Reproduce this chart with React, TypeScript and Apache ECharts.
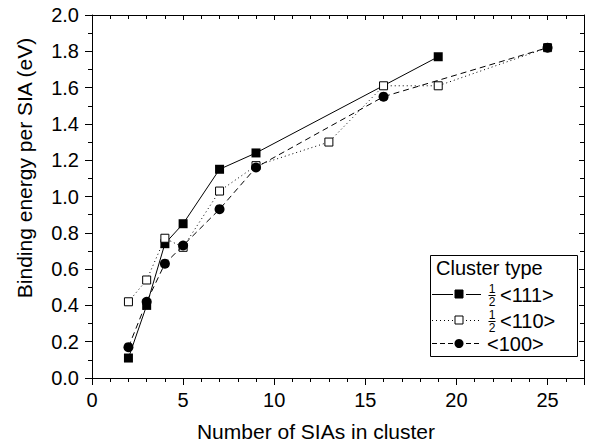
import React, { useEffect, useRef } from "react";
import * as echarts from "echarts";

const xTicks = [0, 5, 10, 15, 20, 25];
const yTickLabels = ["0.0", "0.2", "0.4", "0.6", "0.8", "1.0", "1.2", "1.4", "1.6", "1.8", "2.0"];

const names = ["1/2 <111>", "1/2 <110>", "<100>"];
const xTitle = "Number of SIAs in cluster";
const yTitle = "Binding energy per SIA (eV)";

const s111X = [2, 3, 4, 5, 7, 9, 19];
const s111Y = [0.11, 0.4, 0.74, 0.85, 1.15, 1.24, 1.77];

const s110X = [2, 3, 4, 5, 7, 9, 13, 16, 19, 25];
const s110Y = [0.42, 0.54, 0.77, 0.72, 1.03, 1.17, 1.3, 1.61, 1.61, 1.82];

const s100X = [2, 3, 4, 5, 7, 9, 16, 25];
const s100Y = [0.17, 0.42, 0.63, 0.73, 0.93, 1.16, 1.55, 1.82];

const FONT = "Liberation Sans, Arial, Helvetica, sans-serif";

function pairs(xs: number[], ys: number[]) {
  return xs.map((x, i) => [x, ys[i]]);
}

export default function App() {
  const ref = useRef<HTMLDivElement>(null);
  useEffect(() => {
    if (!ref.current) return;
    const chart = echarts.init(ref.current, null, { renderer: "svg" });
    const black = "#000";
    const axisCommon = {
      type: "value" as const,
      axisLine: { show: true, onZero: false, lineStyle: { color: black, width: 1 } },
      splitLine: { show: false },
    };
    const legendRows = [
      { y: 294, dash: null as any, sym: "sq", fill: black, frac: true, label: "<111>" },
      { y: 320, dash: [1, 3], sym: "sq", fill: "#fff", frac: true, label: "<110>" },
      { y: 343, dash: [5, 3], sym: "ci", fill: black, frac: false, label: "<100>" },
    ];
    const graphics: any[] = [
      {
        type: "rect",
        shape: { x: 430.5, y: 255.5, width: 147, height: 101 },
        style: { fill: "#fff", stroke: black, lineWidth: 1 },
        z: 100,
      },
      {
        type: "text",
        x: 436,
        y: 268,
        style: { text: "Cluster type", font: `20px ${FONT}`, fill: black, textVerticalAlign: "middle" },
        z: 101,
      },
      {
        type: "text",
        x: 316,
        y: 431,
        style: { text: xTitle, font: `21px ${FONT}`, fill: black, textAlign: "center", textVerticalAlign: "middle" },
        z: 101,
      },
      {
        type: "text",
        x: 24,
        y: 168,
        rotation: Math.PI / 2,
        style: { text: yTitle, font: `21px ${FONT}`, fill: black, textAlign: "center", textVerticalAlign: "middle" },
        z: 101,
      },
    ];
    legendRows.forEach((r) => {
      const ls = { stroke: black, lineWidth: 1, lineDash: r.dash || undefined };
      graphics.push({ type: "line", shape: { x1: 432, y1: r.y + 0.5, x2: 453, y2: r.y + 0.5 }, style: ls, z: 101 });
      graphics.push({ type: "line", shape: { x1: 466, y1: r.y + 0.5, x2: 481, y2: r.y + 0.5 }, style: ls, z: 101 });
      if (r.sym === "sq") {
        graphics.push({
          type: "rect",
          shape: { x: 455, y: r.y - 4, width: 8, height: 8 },
          style: { fill: r.fill, stroke: black, lineWidth: 1 },
          z: 102,
        });
      } else {
        graphics.push({ type: "circle", shape: { cx: 459, cy: r.y + 0.5, r: 4.5 }, style: { fill: black }, z: 102 });
      }
      let tx = 487;
      if (r.frac) {
        graphics.push({
          type: "text", x: 492, y: r.y - 5,
          style: { text: "1", font: `12px ${FONT}`, lineHeight: 11, fill: black, textAlign: "center", textVerticalAlign: "middle" }, z: 101,
        });
        graphics.push({ type: "line", shape: { x1: 488.5, y1: r.y + 1.5, x2: 495.5, y2: r.y + 1.5 }, style: { stroke: black, lineWidth: 1 }, z: 101 });
        graphics.push({
          type: "text", x: 492, y: r.y + 7.5,
          style: { text: "2", font: `12px ${FONT}`, lineHeight: 11, fill: black, textAlign: "center", textVerticalAlign: "middle" }, z: 101,
        });
        tx = 500;
      }
      graphics.push({
        type: "text", x: tx, y: r.y + 1,
        style: { text: r.label, font: `20px ${FONT}`, fill: black, textVerticalAlign: "middle" }, z: 101,
      });
    });

    const option: any = {
      animation: false,
      backgroundColor: "#fff",
      textStyle: { fontFamily: FONT },
      grid: { left: 92, right: 7, top: 15, bottom: 65, containLabel: false },
      xAxis: [
        {
          ...axisCommon,
          position: "bottom",
          min: 0,
          max: 27,
          interval: 5,
          axisTick: { show: true, inside: false, length: 7, lineStyle: { color: black } },
          minorTick: { show: true, splitNumber: 5, length: 4, lineStyle: { color: black } },
          axisLabel: {
            fontSize: 20, color: black, fontFamily: FONT, margin: 12,
            formatter: (v: number) => (xTicks.includes(v) ? String(v) : ""),
          },
        },
        {
          ...axisCommon,
          position: "top",
          min: 0,
          max: 27,
          interval: 5,
          axisTick: { show: true, inside: true, length: 5, lineStyle: { color: black } },
          minorTick: { show: true, splitNumber: 5, length: 4, lineStyle: { color: black } },
          axisLabel: { show: false },
        },
      ],
      yAxis: [
        {
          ...axisCommon,
          position: "left",
          min: 0,
          max: 2,
          interval: 0.2,
          axisTick: { show: true, inside: false, length: 7, lineStyle: { color: black } },
          minorTick: { show: true, splitNumber: 2, length: 4, lineStyle: { color: black } },
          axisLabel: {
            fontSize: 20, color: black, fontFamily: FONT, margin: 13,
            formatter: (v: number) => yTickLabels[Math.round(v * 5)] ?? "",
          },
        },
        {
          ...axisCommon,
          position: "right",
          min: 0,
          max: 2,
          interval: 0.2,
          axisTick: { show: true, inside: true, length: 5, lineStyle: { color: black } },
          minorTick: { show: true, splitNumber: 2, length: 4, lineStyle: { color: black } },
          axisLabel: { show: false },
        },
      ],
      legend: { show: false },
      series: [
        {
          name: names[0],
          type: "line",
          data: pairs(s111X, s111Y),
          symbol: "rect",
          symbolSize: 9,
          itemStyle: { color: black, borderColor: black, borderWidth: 0 },
          lineStyle: { color: black, width: 1, type: "solid" },
          z: 2,
        },
        {
          name: names[1],
          type: "line",
          data: pairs(s110X, s110Y),
          symbol: "rect",
          symbolSize: 8,
          itemStyle: { color: "#fff", borderColor: black, borderWidth: 1 },
          lineStyle: { color: black, width: 1, type: [1, 3] },
          z: 3,
        },
        {
          name: names[2],
          type: "line",
          data: pairs(s100X, s100Y),
          symbol: "circle",
          symbolSize: 10,
          itemStyle: { color: black, borderColor: black, borderWidth: 0 },
          lineStyle: { color: black, width: 1, type: [6, 4] },
          z: 4,
        },
      ],
      graphic: graphics,
    };
    chart.setOption(option);
    return () => chart.dispose();
  }, []);
  return (
    <div
      ref={ref}
      style={{ position: "fixed", left: 0, top: 0, width: 591, height: 443, background: "#fff" }}
    />
  );
}
